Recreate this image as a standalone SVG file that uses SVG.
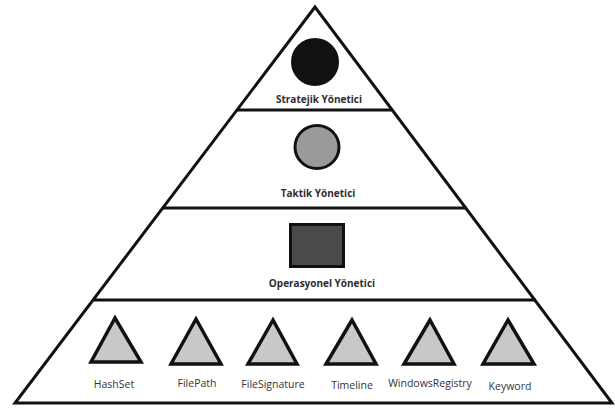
<svg xmlns="http://www.w3.org/2000/svg" width="615" height="408" viewBox="0 0 615 408">
<style>
.frame{fill:none;stroke:#111;stroke-width:3;stroke-linejoin:miter}
.sep{stroke:#111;stroke-width:3}
.tri{fill:#c8c8c8;stroke:#111;stroke-width:3.5;stroke-linejoin:miter}
.lvl{font-family:"Open Sans","Liberation Sans",sans-serif;font-weight:bold;font-size:10px;fill:#2e2e2e;text-anchor:middle}
.lbl{font-family:"Open Sans","Liberation Sans",sans-serif;font-size:10.5px;fill:#333;text-anchor:middle}
</style>
<rect width="615" height="408" fill="#fff"/>
<g id="pyramid">
<polygon class="frame" points="315,7 15,403 612,403"/>
<line class="sep" x1="237" y1="110" x2="393" y2="110"/>
<line class="sep" x1="163" y1="208" x2="467" y2="208"/>
<line class="sep" x1="93" y1="300" x2="536" y2="300"/>
</g>
<g id="stratejik">
<circle cx="315" cy="62" r="23" fill="#111" stroke="#111" stroke-width="2"/>
<text class="lvl" x="319" y="103">Stratejik Yönetici</text>
</g>
<g id="taktik">
<ellipse cx="317" cy="147" rx="22" ry="21.5" fill="#9a9a9a" stroke="#111" stroke-width="3"/>
<text class="lvl" x="318" y="197">Taktik Yönetici</text>
</g>
<g id="operasyonel">
<rect x="290.5" y="224.5" width="53" height="42" fill="#4a4a4a" stroke="#111" stroke-width="3"/>
<text class="lvl" x="322" y="287">Operasyonel Yönetici</text>
</g>
<g id="hashset">
<polygon class="tri" points="115,318 91,362 141,362"/>
<text class="lbl" x="114" y="388">HashSet</text>
</g>
<g id="filepath">
<polygon class="tri" points="196,319 171,364 221,364"/>
<text class="lbl" x="197" y="387">FilePath</text>
</g>
<g id="filesignature">
<polygon class="tri" points="273,320 248,364 297,364"/>
<text class="lbl" x="273" y="388">FileSignature</text>
</g>
<g id="timeline">
<polygon class="tri" points="352,320 326,364 376,364"/>
<text class="lbl" x="352" y="389">Timeline</text>
</g>
<g id="windowsregistry">
<polygon class="tri" points="430,320 404,364 454,364"/>
<text class="lbl" x="430" y="387">WindowsRegistry</text>
</g>
<g id="keyword">
<polygon class="tri" points="508,320 483,364 534,364"/>
<text class="lbl" x="510" y="390">Keyword</text>
</g>
<g id="connectors"></g>
</svg>
